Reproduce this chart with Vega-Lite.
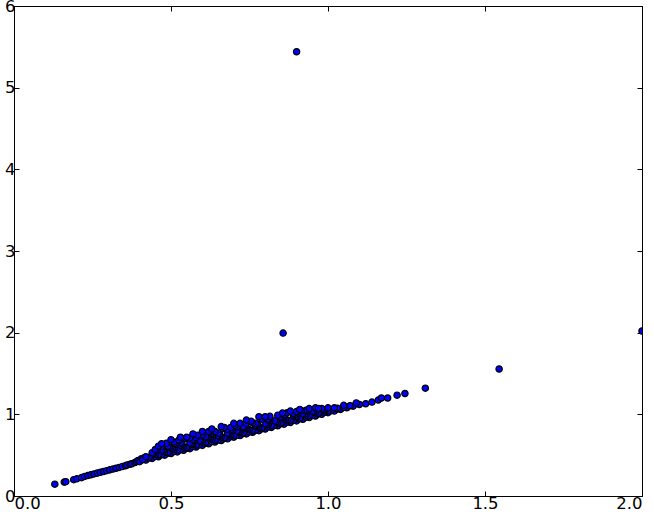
{
  "$schema": "https://vega.github.io/schema/vega-lite/v6.json",
  "autosize": {"type": "none"},
  "width": 628,
  "height": 490,
  "padding": {"left": 14, "top": 6, "right": 12, "bottom": 18},
  "background": "white",
  "config": {
    "view": {"stroke": "black", "strokeWidth": 1},
    "axis": {
      "grid": false,
      "domainColor": "black",
      "tickColor": "black",
      "tickSize": -5,
      "labelFont": "DejaVu Sans",
      "labelFontSize": 16.5,
      "labelColor": "black",
      "labelPadding": 4,
      "title": null
    }
  },
  "data": {
    "values": [
      {"x": 0.13, "y": 0.145}, {"x": 0.16, "y": 0.17}, {"x": 0.165, "y": 0.175}, {"x": 0.19, "y": 0.2},
      {"x": 0.2, "y": 0.21}, {"x": 0.215, "y": 0.225}, {"x": 0.225, "y": 0.24}, {"x": 0.235, "y": 0.25},
      {"x": 0.245, "y": 0.26}, {"x": 0.255, "y": 0.27}, {"x": 0.265, "y": 0.28}, {"x": 0.275, "y": 0.29},
      {"x": 0.285, "y": 0.3}, {"x": 0.295, "y": 0.31}, {"x": 0.305, "y": 0.32}, {"x": 0.315, "y": 0.33},
      {"x": 0.325, "y": 0.34}, {"x": 0.335, "y": 0.35}, {"x": 0.345, "y": 0.36}, {"x": 0.355, "y": 0.37},
      {"x": 0.36, "y": 0.38}, {"x": 0.37, "y": 0.39}, {"x": 0.375, "y": 0.395}, {"x": 0.385, "y": 0.41},
      {"x": 0.39, "y": 0.42}, {"x": 0.395, "y": 0.435}, {"x": 0.405, "y": 0.455}, {"x": 0.415, "y": 0.47},
      {"x": 0.40, "y": 0.42}, {"x": 0.42, "y": 0.44}, {"x": 0.44, "y": 0.46}, {"x": 0.46, "y": 0.48},
      {"x": 0.48, "y": 0.50}, {"x": 0.50, "y": 0.52}, {"x": 0.52, "y": 0.54}, {"x": 0.54, "y": 0.56},
      {"x": 0.56, "y": 0.58}, {"x": 0.58, "y": 0.60}, {"x": 0.60, "y": 0.62}, {"x": 0.62, "y": 0.64},
      {"x": 0.64, "y": 0.66}, {"x": 0.66, "y": 0.68}, {"x": 0.68, "y": 0.70}, {"x": 0.70, "y": 0.72},
      {"x": 0.72, "y": 0.74}, {"x": 0.74, "y": 0.76}, {"x": 0.76, "y": 0.78}, {"x": 0.78, "y": 0.80},
      {"x": 0.80, "y": 0.82}, {"x": 0.82, "y": 0.84}, {"x": 0.84, "y": 0.86}, {"x": 0.86, "y": 0.88},
      {"x": 0.88, "y": 0.90}, {"x": 0.90, "y": 0.92}, {"x": 0.92, "y": 0.94}, {"x": 0.94, "y": 0.96},
      {"x": 0.96, "y": 0.98}, {"x": 0.98, "y": 1.00}, {"x": 1.00, "y": 1.02}, {"x": 1.02, "y": 1.04},
      {"x": 1.04, "y": 1.06}, {"x": 1.06, "y": 1.08}, {"x": 1.08, "y": 1.10}, {"x": 1.10, "y": 1.12},
      {"x": 0.41, "y": 0.445}, {"x": 0.43, "y": 0.465}, {"x": 0.45, "y": 0.485}, {"x": 0.47, "y": 0.505},
      {"x": 0.49, "y": 0.525}, {"x": 0.51, "y": 0.545}, {"x": 0.53, "y": 0.565}, {"x": 0.55, "y": 0.585},
      {"x": 0.57, "y": 0.605}, {"x": 0.59, "y": 0.625}, {"x": 0.61, "y": 0.645}, {"x": 0.63, "y": 0.665},
      {"x": 0.65, "y": 0.685}, {"x": 0.67, "y": 0.705}, {"x": 0.69, "y": 0.725}, {"x": 0.71, "y": 0.745},
      {"x": 0.73, "y": 0.765}, {"x": 0.75, "y": 0.785}, {"x": 0.77, "y": 0.805}, {"x": 0.79, "y": 0.825},
      {"x": 0.81, "y": 0.845}, {"x": 0.83, "y": 0.865}, {"x": 0.85, "y": 0.885}, {"x": 0.87, "y": 0.905},
      {"x": 0.89, "y": 0.925}, {"x": 0.91, "y": 0.945}, {"x": 0.93, "y": 0.965}, {"x": 0.95, "y": 0.985},
      {"x": 0.97, "y": 1.005}, {"x": 0.99, "y": 1.025}, {"x": 1.01, "y": 1.045}, {"x": 1.03, "y": 1.065},
      {"x": 1.05, "y": 1.085}, {"x": 1.07, "y": 1.105},
      {"x": 0.43, "y": 0.475}, {"x": 0.46, "y": 0.505}, {"x": 0.49, "y": 0.535}, {"x": 0.52, "y": 0.565},
      {"x": 0.55, "y": 0.595}, {"x": 0.58, "y": 0.625}, {"x": 0.61, "y": 0.655}, {"x": 0.64, "y": 0.685},
      {"x": 0.67, "y": 0.715}, {"x": 0.70, "y": 0.745}, {"x": 0.73, "y": 0.775}, {"x": 0.76, "y": 0.805},
      {"x": 0.79, "y": 0.835}, {"x": 0.82, "y": 0.865}, {"x": 0.85, "y": 0.895}, {"x": 0.88, "y": 0.925},
      {"x": 0.91, "y": 0.955}, {"x": 0.94, "y": 0.985}, {"x": 0.97, "y": 1.015}, {"x": 1.00, "y": 1.045},
      {"x": 1.03, "y": 1.075},
      {"x": 0.42, "y": 0.48}, {"x": 0.45, "y": 0.51}, {"x": 0.48, "y": 0.54}, {"x": 0.51, "y": 0.57},
      {"x": 0.54, "y": 0.60}, {"x": 0.57, "y": 0.63}, {"x": 0.60, "y": 0.66}, {"x": 0.63, "y": 0.69},
      {"x": 0.66, "y": 0.72}, {"x": 0.69, "y": 0.75}, {"x": 0.72, "y": 0.78}, {"x": 0.75, "y": 0.81},
      {"x": 0.78, "y": 0.84}, {"x": 0.81, "y": 0.87}, {"x": 0.84, "y": 0.90}, {"x": 0.87, "y": 0.93},
      {"x": 0.90, "y": 0.96}, {"x": 0.93, "y": 0.99}, {"x": 0.96, "y": 1.02}, {"x": 0.99, "y": 1.05},
      {"x": 1.02, "y": 1.08},
      {"x": 0.445, "y": 0.52}, {"x": 0.475, "y": 0.55}, {"x": 0.505, "y": 0.58}, {"x": 0.535, "y": 0.61},
      {"x": 0.565, "y": 0.64}, {"x": 0.595, "y": 0.67}, {"x": 0.625, "y": 0.70}, {"x": 0.655, "y": 0.73},
      {"x": 0.685, "y": 0.76}, {"x": 0.715, "y": 0.79}, {"x": 0.745, "y": 0.82}, {"x": 0.775, "y": 0.85},
      {"x": 0.805, "y": 0.88}, {"x": 0.835, "y": 0.91}, {"x": 0.865, "y": 0.94}, {"x": 0.895, "y": 0.97},
      {"x": 0.925, "y": 1.0}, {"x": 0.955, "y": 1.03}, {"x": 0.985, "y": 1.06},
      {"x": 0.44, "y": 0.53}, {"x": 0.47, "y": 0.56}, {"x": 0.50, "y": 0.59}, {"x": 0.53, "y": 0.62},
      {"x": 0.56, "y": 0.65}, {"x": 0.59, "y": 0.68}, {"x": 0.62, "y": 0.71}, {"x": 0.65, "y": 0.74},
      {"x": 0.68, "y": 0.77}, {"x": 0.71, "y": 0.80}, {"x": 0.74, "y": 0.83}, {"x": 0.77, "y": 0.86},
      {"x": 0.80, "y": 0.89}, {"x": 0.83, "y": 0.92}, {"x": 0.86, "y": 0.95}, {"x": 0.89, "y": 0.98},
      {"x": 0.92, "y": 1.01}, {"x": 0.95, "y": 1.04}, {"x": 0.98, "y": 1.07},
      {"x": 0.455, "y": 0.56}, {"x": 0.495, "y": 0.60}, {"x": 0.535, "y": 0.64}, {"x": 0.575, "y": 0.68},
      {"x": 0.615, "y": 0.72}, {"x": 0.655, "y": 0.76}, {"x": 0.695, "y": 0.80}, {"x": 0.735, "y": 0.84},
      {"x": 0.775, "y": 0.88}, {"x": 0.815, "y": 0.92}, {"x": 0.855, "y": 0.96}, {"x": 0.895, "y": 1.0},
      {"x": 0.935, "y": 1.04},
      {"x": 0.45, "y": 0.57}, {"x": 0.49, "y": 0.61}, {"x": 0.53, "y": 0.65}, {"x": 0.57, "y": 0.69},
      {"x": 0.61, "y": 0.73}, {"x": 0.65, "y": 0.77}, {"x": 0.69, "y": 0.81}, {"x": 0.73, "y": 0.85},
      {"x": 0.77, "y": 0.89}, {"x": 0.81, "y": 0.93}, {"x": 0.85, "y": 0.97}, {"x": 0.89, "y": 1.01},
      {"x": 0.93, "y": 1.05},
      {"x": 0.47, "y": 0.605}, {"x": 0.52, "y": 0.655}, {"x": 0.58, "y": 0.715}, {"x": 0.63, "y": 0.765},
      {"x": 0.68, "y": 0.815}, {"x": 0.71, "y": 0.845}, {"x": 0.76, "y": 0.895}, {"x": 0.81, "y": 0.945},
      {"x": 0.86, "y": 0.995}, {"x": 0.9, "y": 1.035}, {"x": 0.915, "y": 1.045}, {"x": 0.94, "y": 1.07},
      {"x": 0.96, "y": 1.08},
      {"x": 0.46, "y": 0.61}, {"x": 0.51, "y": 0.66}, {"x": 0.56, "y": 0.71}, {"x": 0.60, "y": 0.75},
      {"x": 0.64, "y": 0.79}, {"x": 0.69, "y": 0.84}, {"x": 0.74, "y": 0.89}, {"x": 0.79, "y": 0.94},
      {"x": 0.84, "y": 0.99}, {"x": 0.87, "y": 1.02},
      {"x": 0.485, "y": 0.645}, {"x": 0.525, "y": 0.685}, {"x": 0.545, "y": 0.705}, {"x": 0.585, "y": 0.745},
      {"x": 0.625, "y": 0.785}, {"x": 0.665, "y": 0.825}, {"x": 0.705, "y": 0.865}, {"x": 0.755, "y": 0.915},
      {"x": 0.815, "y": 0.975}, {"x": 0.855, "y": 1.015}, {"x": 0.88, "y": 1.04}, {"x": 0.91, "y": 1.06},
      {"x": 0.47, "y": 0.64}, {"x": 0.55, "y": 0.72}, {"x": 0.62, "y": 0.79}, {"x": 0.67, "y": 0.84},
      {"x": 0.72, "y": 0.89}, {"x": 0.80, "y": 0.97},
      {"x": 0.50, "y": 0.69}, {"x": 0.53, "y": 0.72}, {"x": 0.57, "y": 0.76}, {"x": 0.60, "y": 0.79},
      {"x": 0.63, "y": 0.82}, {"x": 0.66, "y": 0.85}, {"x": 0.70, "y": 0.89}, {"x": 0.74, "y": 0.93},
      {"x": 0.78, "y": 0.97},
      {"x": 0.97, "y": 1.07}, {"x": 1.0, "y": 1.08}, {"x": 1.05, "y": 1.11}, {"x": 1.09, "y": 1.14},
      {"x": 1.12, "y": 1.13}, {"x": 1.14, "y": 1.15}, {"x": 1.16, "y": 1.175}, {"x": 1.17, "y": 1.2},
      {"x": 1.19, "y": 1.2}, {"x": 1.22, "y": 1.235}, {"x": 1.245, "y": 1.255},
      {"x": 1.31, "y": 1.32}, {"x": 1.545, "y": 1.555}, {"x": 2.0, "y": 2.02},
      {"x": 0.857, "y": 1.995}, {"x": 0.9, "y": 5.44}
    ]
  },
  "layer": [
    {
      "mark": {"type": "point", "filled": true, "fill": "#0000ff", "stroke": "black", "strokeWidth": 1.2, "size": 40, "opacity": 1, "clip": true},
      "encoding": {
        "x": {"field": "x", "type": "quantitative", "scale": {"domain": [0, 2], "nice": false, "zero": false},
              "axis": {"orient": "bottom", "values": [0, 0.5, 1, 1.5, 2], "format": ".1f"}},
        "y": {"field": "y", "type": "quantitative", "scale": {"domain": [0, 6], "nice": false, "zero": false},
              "axis": {"orient": "left", "values": [0, 1, 2, 3, 4, 5, 6], "format": "d"}}
      }
    },
    {
      "mark": {"type": "point", "opacity": 0},
      "encoding": {
        "x": {"field": "x", "type": "quantitative", "scale": {"domain": [0, 2], "nice": false, "zero": false},
              "axis": {"orient": "top", "values": [0, 0.5, 1, 1.5, 2], "labels": false}},
        "y": {"field": "y", "type": "quantitative", "scale": {"domain": [0, 6], "nice": false, "zero": false},
              "axis": {"orient": "right", "values": [0, 1, 2, 3, 4, 5, 6], "labels": false}}
      }
    }
  ],
  "resolve": {"axis": {"x": "independent", "y": "independent"}}
}
